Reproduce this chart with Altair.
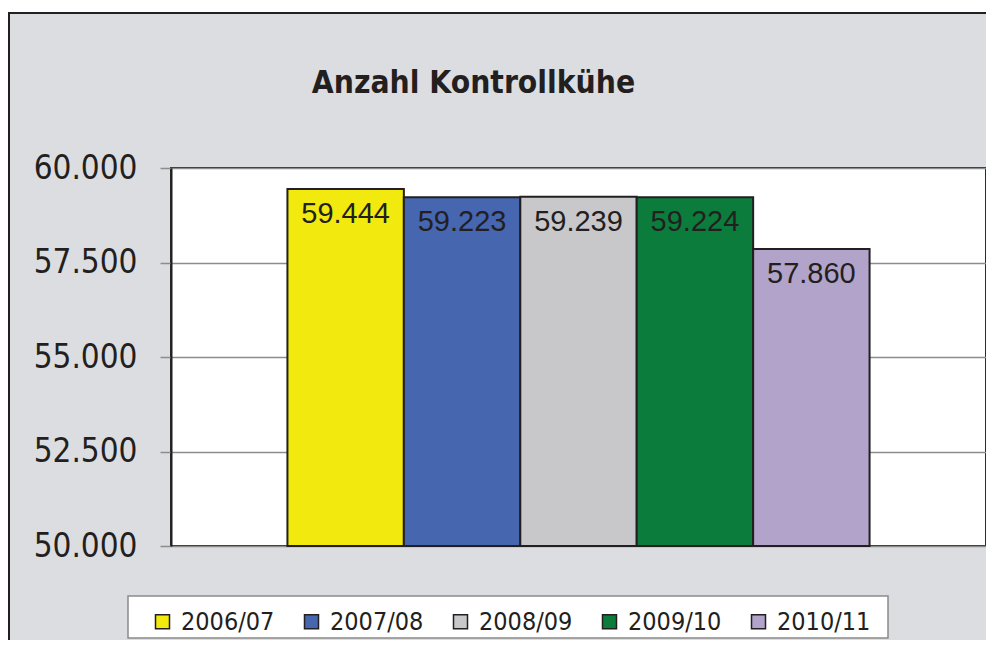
import altair as alt
import pandas as pd

# ---- data ----
years = ["2006/07", "2007/08", "2008/09", "2009/10", "2010/11"]
cows = [59444, 59223, 59239, 59224, 57860]
colors = ["#f2ea0e", "#4666b0", "#c8c8ca", "#0b7c3c", "#b1a3c9"]
y_ticks = [50000, 52500, 55000, 57500, 60000]
y_domain = [50000, 60000]
title_text = "Anzahl Kontrollkühe"

df = pd.DataFrame({"year": years, "cows": cows})
deco_df = pd.DataFrame({"k": [0]})

W, H = 815, 378
FONT = "DejaVu Sans Condensed, DejaVu Sans, Verdana, sans-serif"
INK = "#231f20"
DE_FMT = "replace(format(datum.value, ',d'), ',', '.')"

x_enc = alt.X("year:N", sort=years, axis=None,
              scale=alt.Scale(paddingInner=0, paddingOuter=1))
y_enc = alt.Y("cows:Q",
              scale=alt.Scale(domain=y_domain, zero=False, nice=False),
              axis=alt.Axis(values=y_ticks, title=None, labelExpr=DE_FMT))

bars = alt.Chart(df).mark_bar(stroke=INK, strokeWidth=2, opacity=1).encode(
    x=x_enc,
    y=y_enc,
    y2=alt.datum(y_domain[0]),
    color=alt.Color(
        "year:N",
        scale=alt.Scale(domain=years, range=colors),
        legend=alt.Legend(
            title=None, orient="none", legendX=-21, legendY=441,
            direction="horizontal", symbolType="square", symbolSize=196,
            symbolStrokeColor=INK, symbolStrokeWidth=1.5, symbolOpacity=1,
            labelFont=FONT, labelFontSize=25, labelColor=INK,
            labelOffset=6, columnPadding=24, padding=0,
        ),
    ),
)

labels = alt.Chart(df).transform_calculate(
    lbl="replace(format(datum.cows, ',d'), ',', '.')"
).mark_text(
    font="Liberation Sans, Arial, sans-serif", fontSize=29,
    baseline="alphabetic", dy=34, color=INK
).encode(x=x_enc, y=alt.Y("cows:Q"), text="lbl:N")

deco = alt.Chart(deco_df)
white_strip = deco.mark_rect(color="white").encode(
    x=alt.value(-170), x2=alt.value(830), y=alt.value(-170), y2=alt.value(-156))
top_rule = deco.mark_rule(color=INK, strokeWidth=2).encode(
    x=alt.value(-162), x2=alt.value(830), y=alt.value(-155))
left_rule = deco.mark_rule(color=INK, strokeWidth=2).encode(
    x=alt.value(-162), y=alt.value(-156), y2=alt.value(480))
legend_box = deco.mark_rect(fill="white", stroke="#8a8a8a", strokeWidth=1.5).encode(
    x=alt.value(-43), x2=alt.value(717), y=alt.value(428), y2=alt.value(470))

chart = alt.layer(
    white_strip, top_rule, left_rule, legend_box, bars, labels
).properties(
    width=W, height=H,
    autosize=alt.AutoSizeParams(type="none"),
    padding={"left": 163, "top": 160, "right": 0, "bottom": 94},
    background="#dcdde0",
    title=alt.TitleParams(
        text=title_text, font=FONT, fontSize=31.5, fontWeight="bold",
        color=INK, anchor="middle", frame="group", dx=-105,
        baseline="alphabetic", offset=0, dy=126,
    ),
).configure_view(
    stroke="#2b2b2b", strokeWidth=2, fill="white"
).configure_axis(
    grid=True, gridColor="#8c8c8c", gridWidth=1.5,
    tickColor="#8c8c8c", tickSize=11, tickWidth=1.5,
    domainColor=INK, domainWidth=2,
    labelFont=FONT, labelFontSize=33, labelColor=INK, labelPadding=23,
)

chart.save("out.html", embed_options={"renderer": "svg", "actions": False})
